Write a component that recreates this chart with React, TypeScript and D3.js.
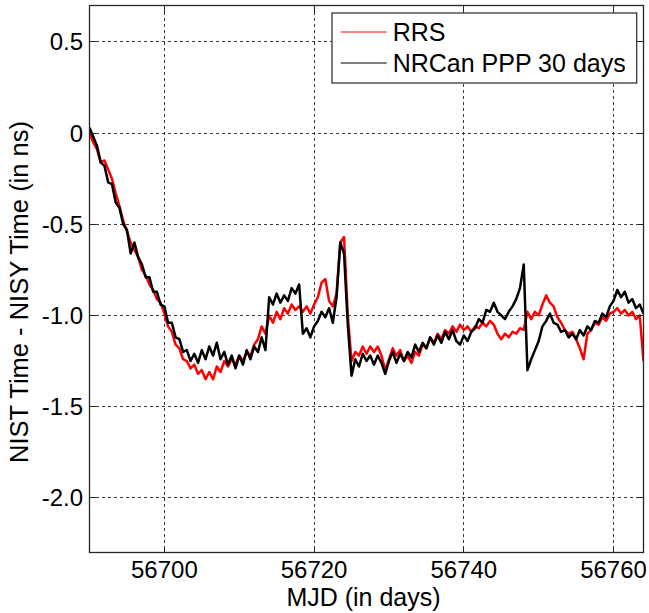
import React from "react";
import * as d3 from "d3";

// ---- data ----
const START_DAY = 56690;
const STEP_DAY = 0.5;

const rrs = [
  0.00, -0.05, -0.09, -0.16, -0.15, -0.20, -0.25, -0.33, -0.40, -0.48,
  -0.54, -0.60, -0.64, -0.68, -0.75, -0.78, -0.83, -0.86, -0.91, -0.93,
  -0.99, -1.06, -1.09, -1.16, -1.18, -1.24, -1.25, -1.29, -1.27, -1.32,
  -1.30, -1.35, -1.31, -1.35, -1.28, -1.31, -1.25, -1.28, -1.24, -1.27,
  -1.22, -1.25, -1.20, -1.22, -1.16, -1.13, -1.06, -1.10, -1.00, -1.04,
  -0.98, -1.02, -0.96, -0.99, -0.94, -0.97, -0.95, -0.98, -0.95, -0.99,
  -0.94, -0.90, -0.82, -0.80, -0.92, -0.95, -0.88, -0.60, -0.57, -1.00,
  -1.25, -1.20, -1.22, -1.17, -1.21, -1.17, -1.20, -1.17, -1.22, -1.30,
  -1.24, -1.18, -1.22, -1.19, -1.25, -1.22, -1.26, -1.20, -1.22, -1.16,
  -1.18, -1.12, -1.15, -1.10, -1.13, -1.08, -1.10, -1.06, -1.09, -1.05,
  -1.08, -1.06, -1.09, -1.06, -1.07, -1.04, -1.06, -1.03, -1.05, -1.10,
  -1.13, -1.10, -1.12, -1.09, -1.10, -1.07, -1.08, -0.98, -1.02, -0.98,
  -1.00, -0.94, -0.89, -0.93, -0.95, -1.01, -1.04, -1.08, -1.10, -1.09,
  -1.13, -1.18, -1.24, -1.10, -1.08, -1.04, -1.05, -1.01, -1.03, -0.99,
  -0.98, -0.96, -0.99, -0.97, -1.00, -0.98, -1.02, -1.00, -1.25,
];

const nrcan = [
  0.03, -0.02, -0.07, -0.16, -0.18, -0.27, -0.28, -0.38, -0.41, -0.50,
  -0.53, -0.66, -0.60, -0.68, -0.72, -0.79, -0.79, -0.87, -0.87, -0.94,
  -0.95, -1.04, -1.04, -1.12, -1.13, -1.20, -1.19, -1.25, -1.21, -1.26,
  -1.19, -1.24, -1.17, -1.22, -1.15, -1.24, -1.20, -1.27, -1.22, -1.29,
  -1.22, -1.27, -1.19, -1.24, -1.17, -1.20, -1.12, -1.19, -0.90, -0.94,
  -0.88, -0.93, -0.89, -0.92, -0.85, -0.88, -0.83, -1.10, -1.07, -1.12,
  -1.06, -1.03, -0.98, -1.01, -0.96, -1.04, -0.90, -0.60, -0.66, -1.05,
  -1.33, -1.24, -1.28, -1.21, -1.25, -1.22, -1.27, -1.22, -1.26, -1.32,
  -1.25, -1.20, -1.26, -1.21, -1.25, -1.20, -1.23, -1.16, -1.20, -1.15,
  -1.18, -1.12, -1.16, -1.11, -1.15, -1.09, -1.13, -1.08, -1.14, -1.16,
  -1.11, -1.14, -1.09, -1.07, -1.02, -1.04, -0.97, -0.98, -0.93, -0.98,
  -1.00, -1.02, -0.98, -0.95, -0.91, -0.85, -0.72, -1.30, -1.24, -1.19,
  -1.14, -1.06, -1.03, -0.99, -1.04, -1.05, -1.09, -1.08, -1.12, -1.10,
  -1.13, -1.08, -1.11, -1.06, -1.08, -1.03, -1.04, -0.99, -1.01, -0.95,
  -0.92, -0.86, -0.90, -0.87, -0.93, -0.91, -0.96, -0.94, -0.99,
];

const xTicks = [56700, 56720, 56740, 56760];
const xTickLabels = ["56700", "56720", "56740", "56760"];
const yTicks = [0.5, 0, -0.5, -1.0, -1.5, -2.0];
const yTickLabels = ["0.5", "0", "-0.5", "-1.0", "-1.5", "-2.0"];
const seriesNames = ["RRS", "NRCan PPP 30 days"];
const seriesColors = ["#ff0000", "#000000"];
const xDomain = [56690, 56764];
const yDomain = [-2.3, 0.7];

const W = 649;
const H = 613;
const P = { left: 89.5, right: 643.5, top: 5.5, bottom: 552.5 };
const FONT = "'Liberation Sans', Arial, Helvetica, sans-serif";

export default function App() {
  const x = d3.scaleLinear().domain(xDomain).range([P.left, P.right]);
  const y = d3.scaleLinear().domain(yDomain).range([P.bottom, P.top]);
  const line = d3
    .line<number>()
    .x((_, i) => x(START_DAY + i * STEP_DAY))
    .y((v) => y(v));
  const series = [rrs, nrcan];
  const tickLen = 6;
  const axisColor = "#262626";
  const gridColor = "#3a3a3a";
  const snap = (v: number) => Math.round(v - 0.5) + 0.5;

  return (
    <div style={{ position: "absolute", left: 0, top: 0, width: W, height: H, background: "#fff" }}>
      <svg width={W} height={H} style={{ display: "block" }} fontFamily={FONT}>
        <defs>
          <clipPath id="plotclip">
            <rect x={P.left} y={P.top} width={P.right - P.left} height={P.bottom - P.top} />
          </clipPath>
        </defs>
        <rect x={0} y={0} width={W} height={H} fill="#fff" />
        {/* grid */}
        {xTicks.map((t) => (
          <line key={"gx" + t} x1={snap(x(t))} x2={snap(x(t))} y1={P.top} y2={P.bottom}
            stroke={gridColor} strokeWidth={1} strokeDasharray="3,3" shapeRendering="crispEdges" />
        ))}
        {yTicks.map((t) => (
          <line key={"gy" + t} x1={P.left} x2={P.right} y1={snap(y(t))} y2={snap(y(t))}
            stroke={gridColor} strokeWidth={1} strokeDasharray="3,3" shapeRendering="crispEdges" />
        ))}
        {/* series */}
        <g clipPath="url(#plotclip)">
          {series.map((s, k) => (
            <path key={k} d={line(s) || ""} fill="none" stroke={seriesColors[k]}
              strokeWidth={2.5} strokeLinejoin="round" />
          ))}
        </g>
        {/* ticks */}
        {xTicks.map((t) => (
          <g key={"tx" + t} shapeRendering="crispEdges">
            <line x1={snap(x(t))} x2={snap(x(t))} y1={P.bottom} y2={P.bottom - tickLen} stroke={axisColor} strokeWidth={1} />
            <line x1={snap(x(t))} x2={snap(x(t))} y1={P.top} y2={P.top + tickLen} stroke={axisColor} strokeWidth={1} />
          </g>
        ))}
        {yTicks.map((t) => (
          <g key={"ty" + t} shapeRendering="crispEdges">
            <line x1={P.left} x2={P.left + tickLen} y1={snap(y(t))} y2={snap(y(t))} stroke={axisColor} strokeWidth={1} />
            <line x1={P.right} x2={P.right - tickLen} y1={snap(y(t))} y2={snap(y(t))} stroke={axisColor} strokeWidth={1} />
          </g>
        ))}
        {/* box */}
        <rect x={P.left} y={P.top} width={P.right - P.left} height={P.bottom - P.top}
          fill="none" stroke={axisColor} strokeWidth={1.3} />
        {/* tick labels */}
        {xTicks.map((t, i) => (
          <text key={"lx" + t} x={x(t)} y={578} textAnchor="middle" fontSize={24} fill="#000">
            {xTickLabels[i]}
          </text>
        ))}
        {yTicks.map((t, i) => (
          <text key={"ly" + t} x={83} y={y(t) + 8.5} textAnchor="end" fontSize={24} fill="#000">
            {yTickLabels[i]}
          </text>
        ))}
        {/* axis labels */}
        <text x={(P.left + P.right) / 2 - 3} y={606} textAnchor="middle" fontSize={25} fill="#000">
          MJD (in days)
        </text>
        <text transform={`translate(28,292) rotate(-90)`} textAnchor="middle"
          fontSize={25.5} fill="#000">
          NIST Time - NISY Time (in ns)
        </text>
        {/* legend */}
        <rect x={332} y={13} width={304.7} height={70} fill="#fff" stroke={axisColor} strokeWidth={1.2} />
        {seriesNames.map((n, k) => (
          <g key={n}>
            <line x1={340.7} x2={386.7} y1={32 + k * 31} y2={32 + k * 31} stroke={seriesColors[k]} strokeWidth={1} />
            <text x={392.7} y={40.5 + k * 31.5} fontSize={25} fill="#000">{n}</text>
          </g>
        ))}
      </svg>
    </div>
  );
}
